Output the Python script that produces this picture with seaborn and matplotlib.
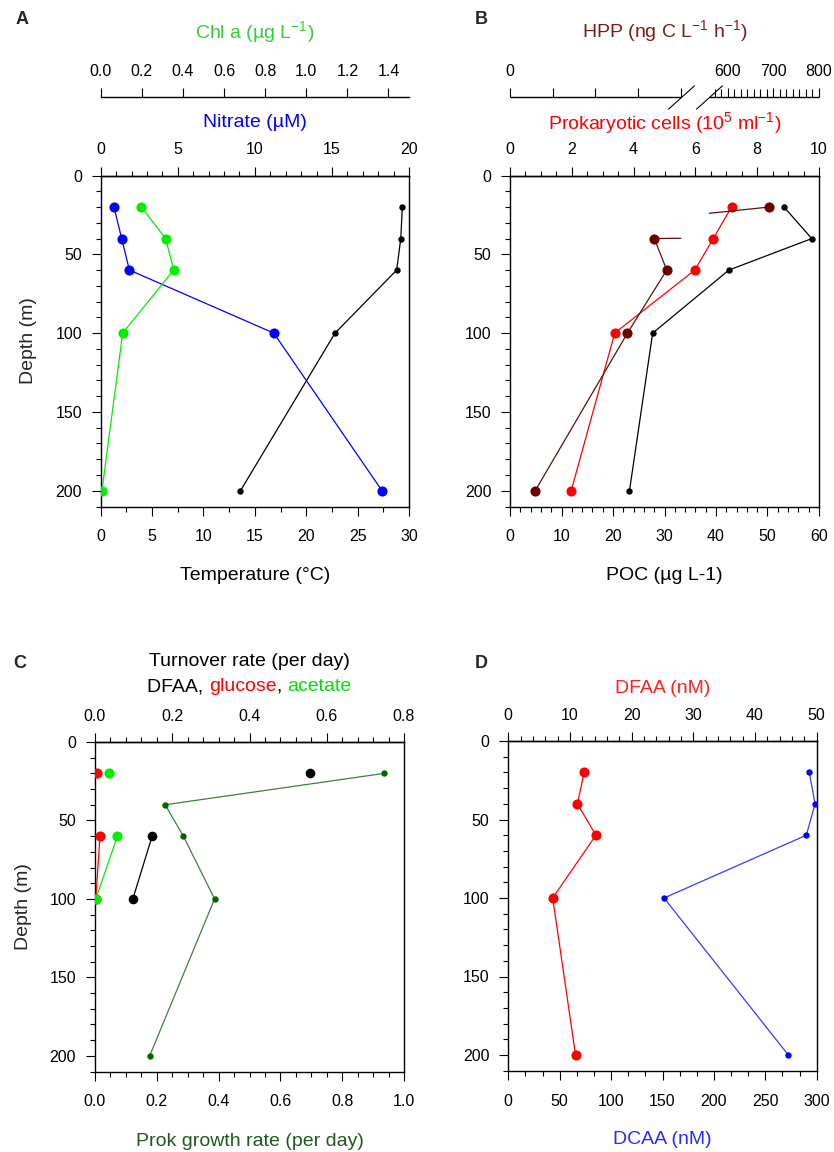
import numpy as np
import pandas as pd
import matplotlib
matplotlib.use("Agg")
import matplotlib.pyplot as plt
import matplotlib.transforms as mtransforms
import seaborn as sns
from matplotlib.ticker import MultipleLocator, FixedLocator, FixedFormatter
from matplotlib.offsetbox import TextArea, HPacker, AnnotationBbox

# ---------------- data ----------------
depth = [20, 40, 60, 100, 200]

# Panel A
temperature = [29.35, 29.2, 28.8, 22.8, 13.6]
nitrate = [0.86, 1.36, 1.86, 11.23, 18.25]
chl_a = [0.198, 0.316, 0.355, 0.107, 0.006]

# Panel B
poc = [53.2, 58.6, 42.5, 27.7, 23.2]
prok_cells = [7.17, 6.58, 5.98, 3.39, 1.98]
hpp = [691, 33.8, 36.7, 27.5, 5.9]

# Panel C
turn_depth = [20, 40, 60, 100]
turn_dfaa = [0.557, np.nan, 0.148, 0.098]
turn_glucose = [0.004, np.nan, 0.013, 0.002]
turn_acetate = [0.037, np.nan, 0.058, 0.002]
prok_growth = [0.936, 0.227, 0.286, 0.387, 0.177]

# Panel D
dfaa = [12.3, 11.2, 14.2, 7.2, 10.9]
dcaa = [292.8, 298.4, 289.9, 151.5, 272.4]

# HPP broken axis (values between the two limits are cut out)
HPP_BREAK = (40, 560)
HPP_MAX = 800

# ---------------- style ----------------
sns.set_theme(style="ticks")
plt.rcParams["font.family"] = ["Liberation Sans", "DejaVu Sans"]
plt.rcParams["mathtext.fontset"] = "custom"
plt.rcParams["mathtext.rm"] = "Liberation Sans"
plt.rcParams["mathtext.it"] = "Liberation Sans:italic"
plt.rcParams["mathtext.bf"] = "Liberation Sans:bold"
plt.rcParams["axes.linewidth"] = 1.0
plt.rcParams["axes.edgecolor"] = "black"

TICK_FS = 11.5
LABEL_FS = 14
MAJ_LEN, MIN_LEN, TW = 6.5, 3.6, 0.8
BIG, SMALL = 7.3, 4.6
LW = 0.9

fig = plt.figure(figsize=(8.34, 11.52), dpi=100)


def rect(left, top, right, bottom):
    W, H = 834.0, 1152.0
    return [left / W, 1 - bottom / H, (right - left) / W, (bottom - top) / H]


def setup_main(ax, xmax, xmaj, xmin_step, ylabel=True):
    ax.set_ylim(210, 0)
    ax.set_xlim(0, xmax)
    ax.yaxis.set_major_locator(MultipleLocator(50))
    ax.yaxis.set_minor_locator(MultipleLocator(10))
    ax.xaxis.set_major_locator(MultipleLocator(xmaj))
    ax.xaxis.set_minor_locator(MultipleLocator(xmin_step))
    ax.tick_params(axis="y", which="both", direction="out", left=True, right=False,
                   width=TW, colors="black")
    ax.tick_params(axis="y", which="major", length=MAJ_LEN, pad=7, labelsize=TICK_FS)
    ax.tick_params(axis="y", which="minor", length=MIN_LEN)
    ax.tick_params(axis="x", which="both", direction="out", bottom=True, top=False,
                   width=TW, colors="black")
    ax.tick_params(axis="x", which="major", length=MAJ_LEN, pad=10, labelsize=TICK_FS)
    ax.tick_params(axis="x", which="minor", length=MIN_LEN)
    for s in ax.spines.values():
        s.set_linewidth(1.0)
        s.set_color("black")
    ax.set_ylabel("")
    if ylabel:
        ax.set_ylabel("Depth (m)", fontsize=LABEL_FS, va="center")
        ax.yaxis.set_label_coords(-0.233, 0.5)


def setup_top(tw, xmax, xmaj, xmin_step, position=None):
    tw.set_xlim(0, xmax)
    if xmaj is not None:
        tw.xaxis.set_major_locator(MultipleLocator(xmaj))
    if xmin_step is not None:
        tw.xaxis.set_minor_locator(MultipleLocator(xmin_step))
    for k in ("left", "right", "bottom"):
        tw.spines[k].set_visible(False)
    tw.spines["top"].set_linewidth(1.0)
    if position is not None:
        tw.spines["top"].set_position(("axes", position))
    tw.tick_params(axis="x", which="both", direction="out", top=True, bottom=False,
                   labeltop=True, labelbottom=False, width=TW, colors="black")
    tw.tick_params(axis="x", which="major", length=MAJ_LEN, pad=6.5, labelsize=TICK_FS)
    tw.tick_params(axis="x", which="minor", length=MIN_LEN)


def profile(ax, x, y, color, ms, line_color=None, lw=LW):
    df = pd.DataFrame({"x": x, "y": y})
    df["seg"] = np.cumsum(df["x"].isna().to_numpy())
    d = df.dropna()
    sns.lineplot(data=d, x="x", y="y", units="seg", estimator=None, sort=False,
                 orient="y", color=line_color or color, lw=lw, ax=ax, legend=False)
    sns.scatterplot(data=d, x="x", y="y", color=color, s=ms ** 2, linewidth=0,
                    ax=ax, legend=False, zorder=4)


def top_label(tw, text, color, ypos):
    tw.set_xlabel(text, fontsize=LABEL_FS, color=color, va="center")
    tw.xaxis.set_label_coords(0.5, ypos)


def bottom_label(ax, text, color, ypos):
    ax.set_xlabel(text, fontsize=LABEL_FS, color=color, va="center")
    ax.xaxis.set_label_coords(0.5, ypos)


SUP = lambda s: r"$\mathregular{^{%s}}$" % s

# ================= Panel A =================
axA = fig.add_axes(rect(100.7, 175.5, 409.0, 506.5))
axA_n = axA.twiny()
axA_c = axA.twiny()
profile(axA, temperature, depth, "black", SMALL)
profile(axA_n, nitrate, depth, "#0000ff", BIG)
profile(axA_c, chl_a, depth, "#00ee00", BIG, line_color="#00ee00")
setup_main(axA, 30, 5, 2.5)
setup_top(axA_n, 20, 5, 1)
setup_top(axA_c, 1.5, 0.2, None, position=1.238)
axA_c.xaxis.set_major_formatter(matplotlib.ticker.FormatStrFormatter("%.1f"))
axA_c.tick_params(axis="x", which="minor", top=False)
bottom_label(axA, "Temperature (°C)", "black", -0.209)
top_label(axA_n, "Nitrate (µM)", "#0000ff", 1.159)
top_label(axA_c, "Chl a (µg L" + SUP("-1") + ")", "#33cc33", 1.434)

# ================= Panel B =================
axB = fig.add_axes(rect(510.0, 175.5, 819.0, 506.5))
axB_p = axB.twiny()
axB_h = axB.twiny()

# piecewise scale for the broken HPP axis
h_knots = np.array([0.0, HPP_BREAK[0], HPP_BREAK[1], HPP_MAX])
u_knots = np.array([0.0, 0.5528, 0.645, 1.0])


def _pw(v, xk, yk):
    v = np.asarray(v, dtype=float)
    out = np.interp(v, xk, yk)
    s0 = (yk[1] - yk[0]) / (xk[1] - xk[0])
    s1 = (yk[-1] - yk[-2]) / (xk[-1] - xk[-2])
    out = np.where(v < xk[0], yk[0] + (v - xk[0]) * s0, out)
    out = np.where(v > xk[-1], yk[-1] + (v - xk[-1]) * s1, out)
    return out


axB_h.set_xscale("function", functions=(lambda v: _pw(v, h_knots, u_knots),
                                         lambda u: _pw(u, u_knots, h_knots)))

# split the HPP profile where it crosses the axis break
hx, hy, hs = [], [], []
seg = 0
for i, (v, d) in enumerate(zip(hpp, depth)):
    if i > 0:
        a, b = hpp[i - 1], v
        da, db = depth[i - 1], d
        if (a > HPP_BREAK[1]) != (b > HPP_BREAK[1]):
            ea = HPP_BREAK[1] if a > HPP_BREAK[1] else HPP_BREAK[0]
            eb = HPP_BREAK[1] if b > HPP_BREAK[1] else HPP_BREAK[0]
            hx.append(ea); hy.append(da + (ea - a) / (b - a) * (db - da)); hs.append(seg)
            seg += 1
            hx.append(eb); hy.append(da + (eb - a) / (b - a) * (db - da)); hs.append(seg)
    hx.append(v); hy.append(d); hs.append(seg)

profile(axB, poc, depth, "black", SMALL)
profile(axB_p, prok_cells, depth, "#ff0000", BIG)
hdf = pd.DataFrame({"x": hx, "y": hy, "seg": hs})
sns.lineplot(data=hdf, x="x", y="y", units="seg", estimator=None, sort=False, orient="y",
             color="#5a1010", lw=LW, ax=axB_h, legend=False)
sns.scatterplot(x=hpp, y=depth, color="#6e0000", s=BIG ** 2, linewidth=0, ax=axB_h,
                legend=False, zorder=4)

setup_main(axB, 60, 10, 2, ylabel=False)
setup_top(axB_p, 10, 2, 0.5)
setup_top(axB_h, HPP_MAX, None, None, position=1.238)
axB_h.set_xlim(0, HPP_MAX)
maj = [0, 10, 20, 30, 40, 600, 700, 800]
axB_h.xaxis.set_major_locator(FixedLocator(maj))
axB_h.xaxis.set_major_formatter(FixedFormatter(["0", "", "", "", "", "600", "700", "800"]))
minor_h = np.arange(HPP_MAX, HPP_BREAK[1], -100 / 7)
axB_h.xaxis.set_minor_locator(FixedLocator(minor_h))
axB_h.tick_params(axis="x", which="minor", length=MAJ_LEN * 0.9)
axB_h.spines["top"].set_visible(False)
btrans = mtransforms.blended_transform_factory(axB_h.transData, axB_h.transAxes)
for x0, x1 in ((0, HPP_BREAK[0]), (HPP_BREAK[1], HPP_MAX)):
    axB_h.plot([x0, x1], [1.238, 1.238], color="black", lw=1.0, transform=btrans,
               clip_on=False, solid_capstyle="butt")
slash = [(-1, -0.9), (1, 0.9)]
axB_h.plot(list(HPP_BREAK), [1.238, 1.238], ls="none", marker=slash, markersize=19,
           mew=0.8, mec="black", transform=btrans, clip_on=False)
bottom_label(axB, "POC (µg L-1)", "black", -0.209)
top_label(axB_p, "Prokaryotic cells (10" + SUP("5") + " ml" + SUP("-1") + ")", "#ff0000", 1.158)
top_label(axB_h, "HPP (ng C L" + SUP("-1") + " h" + SUP("-1") + ")", "#7b1c1c", 1.436)

# ================= Panel C =================
axC = fig.add_axes(rect(95.0, 742.0, 404.0, 1071.5))
axC_t = axC.twiny()
profile(axC, prok_growth, depth, "#006400", SMALL, line_color="#3f7f3f")
profile(axC_t, turn_dfaa, turn_depth, "black", BIG * 0.95)
profile(axC_t, turn_glucose, turn_depth, "#ff0000", BIG)
profile(axC_t, turn_acetate, turn_depth, "#00ee00", BIG)
setup_main(axC, 1.0, 0.2, 0.05)
axC.xaxis.set_major_formatter(matplotlib.ticker.FormatStrFormatter("%.1f"))
setup_top(axC_t, 0.8, 0.2, 0.04)
axC_t.xaxis.set_major_formatter(matplotlib.ticker.FormatStrFormatter("%.1f"))
bottom_label(axC, "Prok growth rate (per day)", "#1e5a1e", -0.212)
top_label(axC_t, "Turnover rate (per day)", "black", 1.244)
parts = [("DFAA, ", "black"), ("glucose", "#ff0000"), (", ", "black"), ("acetate", "#00e000")]
box = HPacker(children=[TextArea(t, textprops=dict(color=c, fontsize=LABEL_FS)) for t, c in parts],
              align="baseline", pad=0, sep=0)
axC_t.add_artist(AnnotationBbox(box, (0.5, 1.167), xycoords="axes fraction",
                                box_alignment=(0.5, 0.5), frameon=False, pad=0,
                                annotation_clip=False))

# ================= Panel D =================
axD = fig.add_axes(rect(508.3, 741.0, 816.7, 1070.7))
axD_t = axD.twiny()
profile(axD, dcaa, depth, "#0000ff", SMALL, line_color="#3a3aff")
profile(axD_t, dfaa, depth, "#ff0000", BIG)
setup_main(axD, 300, 50, 50 / 3, ylabel=False)
setup_top(axD_t, 50, 10, 2)
bottom_label(axD, "DCAA (nM)", "#2a2aff", -0.21)
top_label(axD_t, "DFAA (nM)", "#ff2020", 1.16)

# panel letters
for letter, (px, py) in {"A": (21.7, 19.7), "B": (481.7, 20), "C": (20, 663.3), "D": (481.7, 663.3)}.items():
    fig.text(px / 834, 1 - py / 1152, letter, fontsize=13, fontweight="bold", ha="center", va="center")

fig.savefig("out.png", dpi=100)
